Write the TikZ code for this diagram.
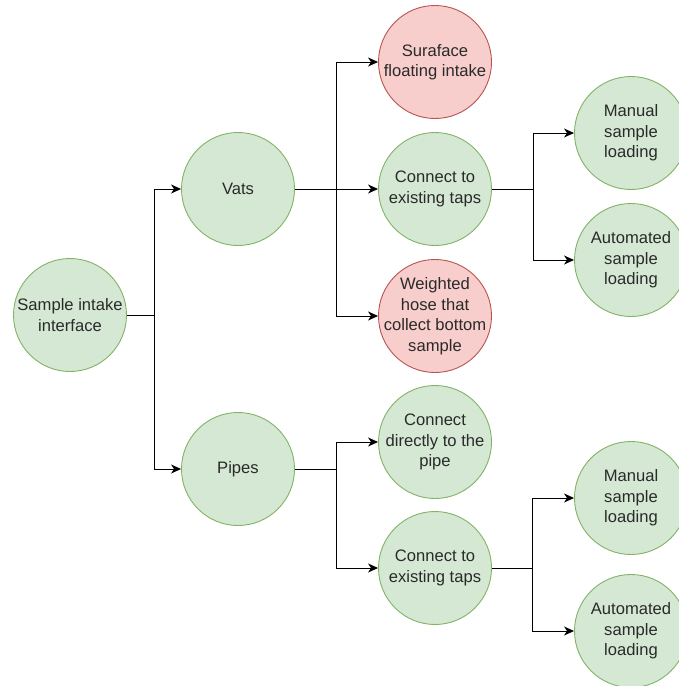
\documentclass[tikz,border=0pt]{standalone}
\usepackage{fontspec}
\setmainfont{Liberation Sans}
\usetikzlibrary{arrows.meta}
\definecolor{okfill}{HTML}{D5E8D4}
\definecolor{okline}{HTML}{82B366}
\definecolor{badfill}{HTML}{F8CECC}
\definecolor{badline}{HTML}{B85450}
\definecolor{txt}{HTML}{2A2A2A}
\begin{document}
\begin{tikzpicture}[x=1pt,y=-1pt,
  bubble/.style={circle, minimum size=113pt, inner sep=0pt, line width=0.9pt},
  okbubble/.style={bubble, draw=okline, fill=okfill},
  badbubble/.style={bubble, draw=badline, fill=badfill},
  lbl/.style={align=center, text=txt, inner sep=0pt, font=\fontsize{16.6}{20.5}\selectfont},
  link/.style={line width=1pt, black},
  arr/.style={link, -{Stealth[length=10pt,width=9pt,inset=3pt]}}]
\useasboundingbox (0,0) rectangle (678,686);

% nodes: fixed-size circles, wording set as a centred label
\node[okbubble, label={[lbl]center:Sample intake\\interface}] (intake) at (70,315) {};
\node[okbubble, label={[lbl]center:Vats}] (vats) at (238,189) {};
\node[okbubble, label={[lbl]center:Pipes}] (pipes) at (238,469) {};
\node[badbubble, label={[lbl]center:Suraface\\floating intake}] (surf) at (435,62) {};
\node[okbubble, label={[lbl]center:Connect to\\existing taps}] (tapsA) at (435,189) {};
\node[badbubble, label={[lbl]center:Weighted\\hose that\\collect bottom\\sample}] (hose) at (435,316) {};
\node[okbubble, label={[lbl]center:Connect\\directly to the\\pipe}] (direct) at (435,442) {};
\node[okbubble, label={[lbl]center:Connect to\\existing taps}] (tapsB) at (435,568) {};
\node[okbubble, label={[lbl]center:Manual\\sample\\loading}] (manA) at (631,133) {};
\node[okbubble, label={[lbl]center:Automated\\sample\\loading}] (autoA) at (631,260) {};
\node[okbubble, label={[lbl]center:Manual\\sample\\loading}] (manB) at (631,498) {};
\node[okbubble, label={[lbl]center:Automated\\sample\\loading}] (autoB) at (631,631) {};

% branch points
\coordinate (j0) at (154,315);
\coordinate (j1) at (336,189);
\coordinate (j2) at (336,469);
\coordinate (j3) at (533,189);
\coordinate (j4) at (532,568);

% connectors
\draw[link] (intake.east) -- (j0);
\draw[arr] (j0) |- (vats.west);
\draw[arr] (j0) |- (pipes.west);

\draw[link] (vats.east) -- (j1);
\draw[arr] (j1) |- (surf.west);
\draw[arr] (j1) -- (tapsA.west);
\draw[arr] (j1) |- (hose.west);

\draw[link] (pipes.east) -- (j2);
\draw[arr] (j2) |- (direct.west);
\draw[arr] (j2) |- (tapsB.west);

\draw[link] (tapsA.east) -- (j3);
\draw[arr] (j3) |- (manA.west);
\draw[arr] (j3) |- (autoA.west);

\draw[link] (tapsB.east) -- (j4);
\draw[arr] (j4) |- (manB.west);
\draw[arr] (j4) |- (autoB.west);
\end{tikzpicture}
\end{document}
